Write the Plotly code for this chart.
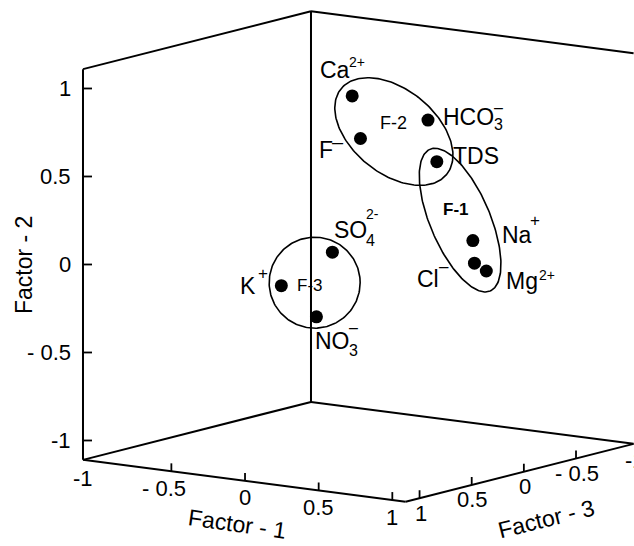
import numpy as np
import plotly.graph_objects as go

# ---------------------------------------------------------------
# Rotated factor loadings of the hydrochemical parameters
# ---------------------------------------------------------------
params = ["Ca", "HCO3", "F", "TDS", "Na", "Cl", "Mg", "SO4", "K", "NO3"]
factor1 = [-0.04, 0.51, -0.09, 0.57, 0.85, 0.79, 0.92, 0.30, 0.01, 0.22]
factor2 = [0.91, 0.84, 0.64, 0.61, 0.20, 0.05, 0.03, 0.16, -0.05, -0.21]
factor3 = [0.05, 0.10, -0.10, 0.10, 0.15, 0.05, 0.12, 0.72, 0.80, 0.76]

# factor groupings (encircled clusters)
group_names = ["F-1", "F-2", "F-3"]
group_members = [["TDS", "Na", "Cl", "Mg"],
                 ["Ca", "HCO3", "F", "TDS"],
                 ["SO4", "K", "NO3"]]

# axis ticks
tick_values = [-1, -0.5, 0, 0.5, 1]
tick_labels = ["-1", "- 0.5", "0", "0.5", "1"]
axis_titles = ["Factor - 1", "Factor - 2", "Factor - 3"]

# ---------------------------------------------------------------
# Oblique projection of the factor cube onto the page (pixels)
# ---------------------------------------------------------------
W, H = 634, 546
ORIGIN = np.array([363.3, 255.5])
E1 = np.array([147.3, 19.15])    # Factor-1 direction
E2 = np.array([0.0, -176.0])     # Factor-2 direction
E3 = np.array([-104.3, 26.5])    # Factor-3 direction
LIM1 = (-1.10, 1.09)
LIM2 = (-1.11, 1.11)
LIM3 = (-1.052, 1.134)


def proj(f1, f2, f3):
    f1, f2, f3 = (np.asarray(v, dtype=float) for v in (f1, f2, f3))
    x = ORIGIN[0] + E1[0] * f1 + E2[0] * f2 + E3[0] * f3
    y = ORIGIN[1] + E1[1] * f1 + E2[1] * f2 + E3[1] * f3
    return x, y


FONT = "Liberation Sans, Arial, Helvetica, sans-serif"
fig = go.Figure()


def add_line(xs, ys, width=2.0):
    fig.add_trace(go.Scatter(x=list(xs), y=list(ys), mode="lines",
                             line=dict(color="black", width=width),
                             hoverinfo="skip", showlegend=False))


def add_text(x, y, text, size, xanchor="center", angle=0, yanchor="middle"):
    fig.add_annotation(x=x, y=y, xref="x", yref="y", text=text,
                       showarrow=False, xanchor=xanchor, yanchor=yanchor,
                       textangle=angle, borderpad=0,
                       font=dict(size=size, color="black", family=FONT))


# --- cube edges -------------------------------------------------
lo1, hi1 = LIM1
lo2, hi2 = LIM2
lo3, hi3 = LIM3
edges = [
    ((lo1, lo2, hi3), (lo1, hi2, hi3)),   # front-left vertical
    ((lo1, hi2, hi3), (lo1, hi2, lo3)),   # top-left
    ((lo1, lo2, lo3), (lo1, hi2, lo3)),   # back vertical
    ((lo1, hi2, lo3), (hi1, hi2, lo3)),   # top-back
    ((lo1, lo2, hi3), (lo1, lo2, lo3)),   # floor, left
    ((lo1, lo2, lo3), (hi1, lo2, lo3)),   # floor, back
    ((lo1, lo2, hi3), (hi1, lo2, hi3)),   # Factor-1 axis
    ((hi1, lo2, hi3), (hi1, lo2, lo3)),   # Factor-3 axis
]
for a, b in edges:
    xs, ys = proj([a[0], b[0]], [a[1], b[1]], [a[2], b[2]])
    add_line(xs, ys, 2.0)

# --- Factor-2 axis (vertical, front-left edge) ------------------
for v, t in zip(tick_values, tick_labels):
    x0, y0 = proj(lo1, v, hi3)
    add_line([x0, x0 + 9], [y0, y0], 1.8)
    add_text(x0 - 11, y0, t, 22, xanchor="right")

# --- Factor-1 axis (front floor edge) ---------------------------
for v, t in zip(tick_values, tick_labels):
    x0, y0 = proj(v, lo2, hi3)
    if v > -1:
        add_line([x0, x0], [y0, y0 - 8], 1.8)
    shift = -7 if t.startswith("- ") else (-15 if t.startswith("-") else 0)
    add_text(x0 + shift, y0 + 17, t, 22)

# --- Factor-3 axis (right floor edge) ---------------------------
for v, t in zip(tick_values, tick_labels):
    x0, y0 = proj(hi1, lo2, v)
    if v > -1:
        add_line([x0, x0], [y0, y0 - 8], 1.8)
        add_text(x0 + 1, y0 + 15, t, 22)
    else:
        add_text(x0 - 4, y0 + 15, t, 22, xanchor="left")

# --- axis titles ------------------------------------------------
add_text(24, 265, axis_titles[1], 23, angle=-90)
add_text(237, 524, axis_titles[0], 23, angle=8)
add_text(546, 519, axis_titles[2], 23, angle=-14)

# --- loading points ---------------------------------------------
px, py = proj(factor1, factor2, factor3)
pos = {p: (px[i], py[i]) for i, p in enumerate(params)}

# --- cluster outlines -------------------------------------------
# (offset of centre from member centroid, semi-axes, tilt, label offset, bold)
outline_style = {
    "F-1": dict(off=(-7.5, -14), a=77, b=30, tilt=67, lab=(-4, -11), bold=True, size=17),
    "F-2": dict(off=(-0.5, 2.5), a=68, b=42, tilt=39, lab=(0, -9), bold=False, size=18),
    "F-3": dict(off=(4.6, -2.2), a=45.5, b=45.5, tilt=0, lab=(-4.5, 2.5), bold=False, size=17),
}
t = np.linspace(0, 2 * np.pi, 200)
for name, members in zip(group_names, group_members):
    st = outline_style[name]
    cx = np.mean([pos[m][0] for m in members]) + st["off"][0]
    cy = np.mean([pos[m][1] for m in members]) + st["off"][1]
    th = np.radians(st["tilt"])
    ex = cx + st["a"] * np.cos(t) * np.cos(th) - st["b"] * np.sin(t) * np.sin(th)
    ey = cy + st["a"] * np.cos(t) * np.sin(th) + st["b"] * np.sin(t) * np.cos(th)
    add_line(ex, ey, 1.6)
    lab = f"<b>{name}</b>" if st["bold"] else name
    add_text(cx + st["lab"][0], cy + st["lab"][1], lab, st["size"])

fig.add_trace(go.Scatter(x=px, y=py, mode="markers",
                         marker=dict(size=13, color="black"),
                         hoverinfo="skip", showlegend=False))

# --- parameter labels -------------------------------------------
# main text, subscript and ionic charge, each offset from its point
label_layout = {
    "Ca":   [("Ca", -33, -26, 23, "left"), ("2+", -4, -34, 14, "left")],
    "HCO3": [("HCO", 14, -3, 23, "left"), ("3", 65, 4, 16, "left"), ("–", 65, -13, 16, "left")],
    "F":    [("F", -42, 12, 23, "left"), ("–", -22, 3.5, 20, "center")],
    "TDS":  [("TDS", 15, -6, 23, "left")],
    "Na":   [("Na", 28, -6, 23, "left"), ("+", 61.7, -19.7, 17, "center")],
    "Cl":   [("Cl", -58, 16, 23, "left"), ("–", -30.5, 3.5, 17, "center")],
    "Mg":   [("Mg", 18.5, 10, 23, "left"), ("2+", 52, 4.3, 14, "left")],
    "SO4":  [("SO", 1, -22, 23, "left"), ("4", 33, -11.5, 16, "left"), ("2-", 33, -37.7, 14, "left")],
    "K":    [("K", -42, 0, 23, "left"), ("+", -18.7, -12, 17, "center")],
    "NO3":  [("NO", -2, 23.7, 23, "left"), ("3", 32, 33.2, 16, "left"), ("–", 32, 10.5, 16, "left")],
}
for p in params:
    x0, y0 = pos[p]
    for txt, dx, dy, size, anchor in label_layout[p]:
        add_text(x0 + dx, y0 + dy, txt, size, xanchor=anchor)

fig.update_layout(
    width=W, height=H,
    margin=dict(l=0, r=0, t=0, b=0),
    paper_bgcolor="white", plot_bgcolor="white",
    xaxis=dict(range=[0, W], visible=False, fixedrange=True),
    yaxis=dict(range=[H, 0], visible=False, fixedrange=True),
    showlegend=False,
)
fig.write_html("out.html")
